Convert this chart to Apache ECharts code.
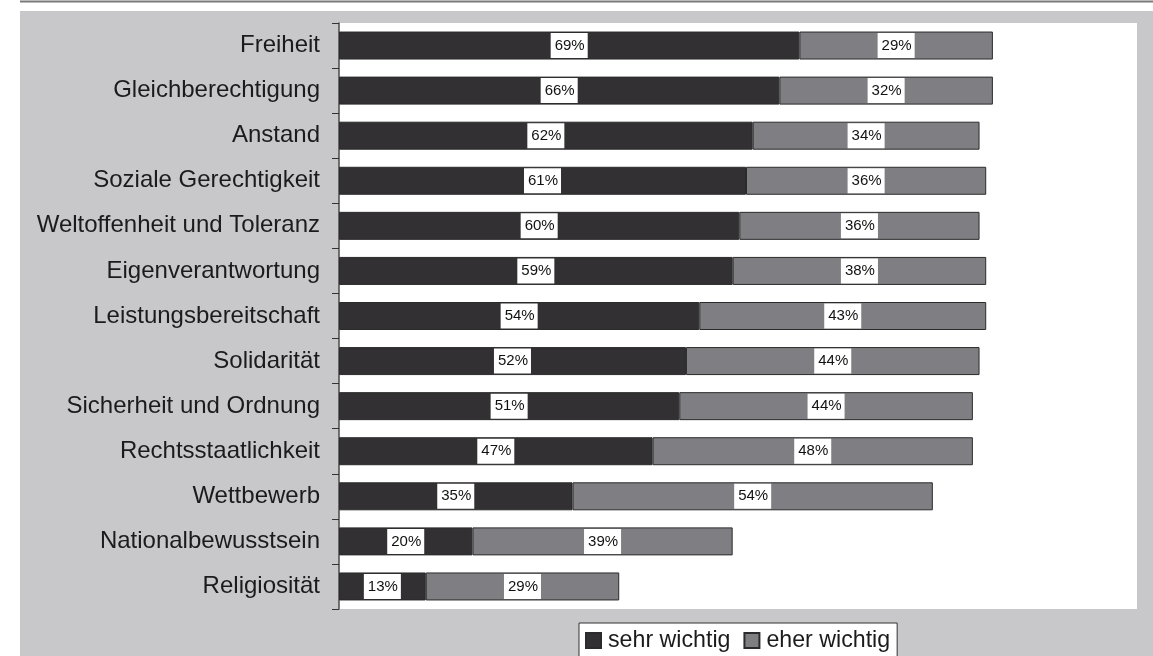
<!DOCTYPE html>
<html>
<head>
<meta charset="utf-8">
<script src="https://cdn.jsdelivr.net/npm/echarts@6/dist/echarts.min.js"></script>
<style>
  html, body { margin: 0; padding: 0; background: #ffffff; }
  #chart { width: 1153px; height: 656px; }
</style>
</head>
<body>
<div id="chart"></div>
<script>
// Werte in Prozent, Reihenfolge von oben nach unten
const categories = [
  'Freiheit', 'Gleichberechtigung', 'Anstand', 'Soziale Gerechtigkeit',
  'Weltoffenheit und Toleranz', 'Eigenverantwortung', 'Leistungsbereitschaft',
  'Solidarität', 'Sicherheit und Ordnung', 'Rechtsstaatlichkeit',
  'Wettbewerb', 'Nationalbewusstsein', 'Religiosität'
];
const sehrWichtig = [69, 66, 62, 61, 60, 59, 54, 52, 51, 47, 35, 20, 13];
const eherWichtig = [29, 32, 34, 36, 36, 38, 43, 44, 44, 48, 54, 39, 29];
const seriesNames = ['sehr wichtig', 'eher wichtig'];

const FONT = '"Liberation Sans", Arial, sans-serif';
const TEXT = '#1b1b1b';
const EDGE = '#2b2b2b';

const chart = echarts.init(document.getElementById('chart'), null, { renderer: 'canvas' });

const valueLabel = {
  show: true,
  position: 'inside',
  formatter: '{c}%',
  color: '#111111',
  fontFamily: FONT,
  fontSize: 15,
  lineHeight: 15,
  backgroundColor: '#ffffff',
  padding: [5, 3, 5, 4]
};

chart.setOption({
  animation: false,
  backgroundColor: '#ffffff',
  graphic: [
    {
      type: 'rect',
      z: -100,
      shape: { x: 20, y: 11, width: 1133, height: 645 },
      style: { fill: '#c8c8ca' }
    },
    {
      type: 'line',
      z: -100,
      shape: { x1: 20, y1: 1.5, x2: 1153, y2: 1.5 },
      style: { stroke: '#7a7a7a', lineWidth: 2 }
    }
  ],
  grid: {
    left: 339,
    right: 16,
    top: 23,
    bottom: 47,
    show: true,
    backgroundColor: '#ffffff',
    borderWidth: 0
  },
  legend: {
    data: seriesNames,
    left: 579,
    top: 623,
    orient: 'horizontal',
    backgroundColor: '#ffffff',
    borderColor: '#333333',
    borderWidth: 1,
    borderRadius: 0,
    padding: [6, 7, 20, 6],
    itemWidth: 15,
    itemHeight: 15,
    itemGap: 13,
    icon: 'rect',
    textStyle: {
      fontFamily: FONT,
      fontSize: 23.2,
      color: TEXT,
      padding: [0, 0, 0, 2]
    }
  },
  xAxis: {
    type: 'value',
    min: 0,
    max: 119.6,
    show: false,
    splitLine: { show: false }
  },
  yAxis: {
    type: 'category',
    data: categories,
    inverse: true,
    axisLine: { show: true, lineStyle: { color: '#4a4a4a', width: 1.5 } },
    axisTick: { show: true, length: 7, lineStyle: { color: '#333333', width: 1 } },
    axisLabel: {
      margin: 19,
      fontFamily: FONT,
      fontSize: 24,
      color: TEXT
    }
  },
  series: [
    {
      name: seriesNames[0],
      type: 'bar',
      stack: 'gesamt',
      barWidth: 28,
      data: sehrWichtig,
      itemStyle: { color: '#323032', borderColor: EDGE, borderWidth: 1 },
      label: valueLabel
    },
    {
      name: seriesNames[1],
      type: 'bar',
      stack: 'gesamt',
      barWidth: 28,
      data: eherWichtig,
      itemStyle: { color: '#7f7f83', borderColor: EDGE, borderWidth: 1 },
      label: valueLabel
    }
  ]
});
</script>
</body>
</html>
